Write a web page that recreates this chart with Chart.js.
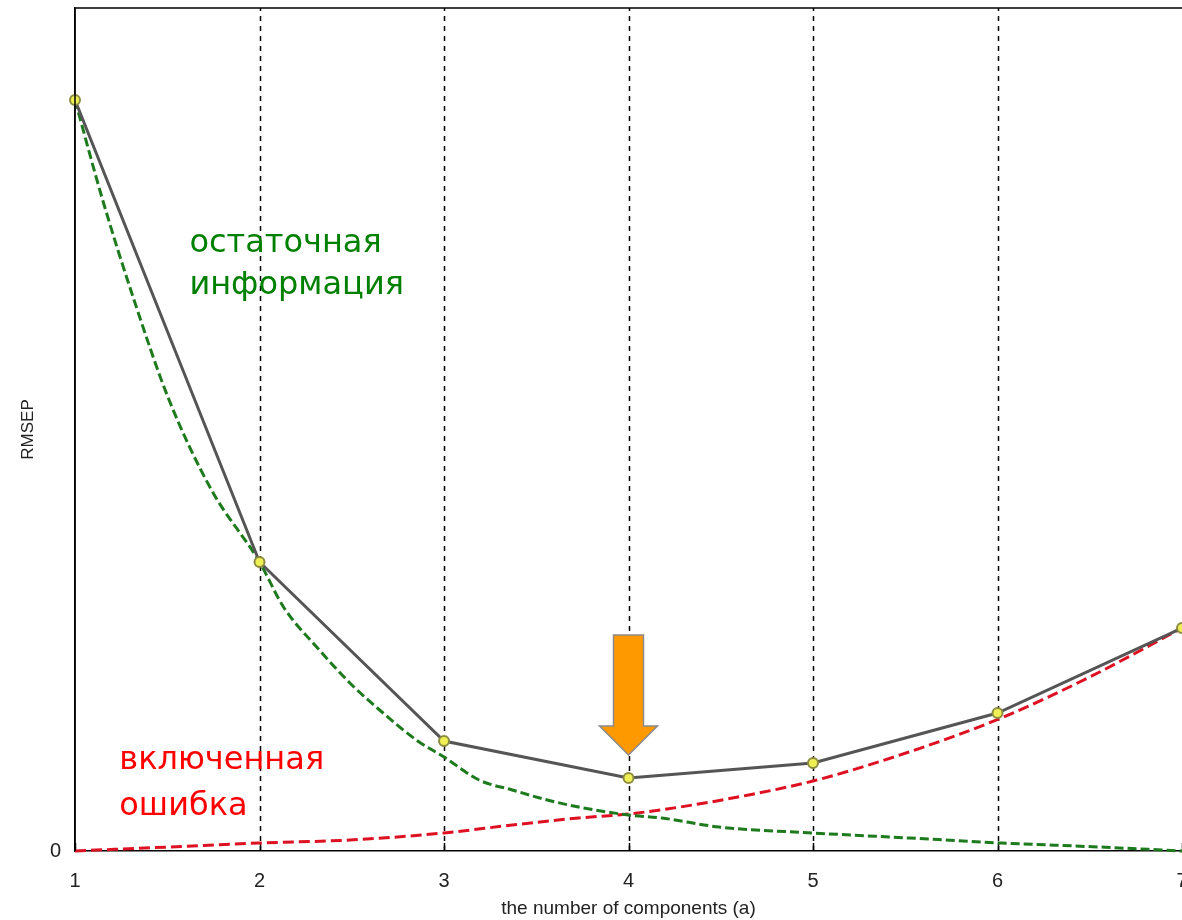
<!DOCTYPE html>
<html>
<head>
<meta charset="utf-8">
<script src="https://cdn.jsdelivr.net/npm/chart.js@4/dist/chart.umd.min.js"></script>
<style>
  html, body { margin: 0; padding: 0; background: #fff; overflow: hidden; }
  #wrap { width: 1182px; height: 920px; }
  canvas { display: block; }
</style>
</head>
<body>
<div id="wrap"><canvas id="c" width="1182" height="920"></canvas></div>
<script>
// ---- data ----
const componentTicks = [1, 2, 3, 4, 5, 6, 7];
const rmsep = [7.51, 2.89, 1.10, 0.73, 0.88, 1.38, 2.23];

const residualX = [1.00, 1.15, 1.32, 1.51, 1.74, 2.00, 2.13, 2.31, 2.49, 2.67, 2.85, 3.00, 3.19, 3.37, 3.56, 3.73, 4.00, 4.18, 4.49, 5.00, 5.52, 6.02, 6.55, 7.00];
const residualY = [7.51, 6.51, 5.51, 4.51, 3.61, 2.89, 2.44, 2.04, 1.68, 1.38, 1.11, 0.94, 0.71, 0.61, 0.51, 0.44, 0.36, 0.33, 0.24, 0.18, 0.13, 0.08, 0.04, 0.00];

const errorX = [1.00, 1.51, 2.00, 2.49, 3.00, 3.37, 3.73, 4.00, 4.28, 4.65, 5.00, 5.52, 6.02, 6.50, 7.00];
const errorY = [0.00, 0.04, 0.08, 0.11, 0.18, 0.26, 0.33, 0.37, 0.44, 0.56, 0.70, 0.99, 1.33, 1.74, 2.23];

const yMax = 8.43;
const arrowAt = { x: 4, tipY: 0.96, topY: 2.16 };
const labelResidual = { x: 1.62, y: 6.07, lines: ['остаточная', 'информация'] };
const labelError = { x: 1.24, y: 0.90, lines: ['включенная', 'ошибка'] };

const toPts = (xs, ys) => xs.map((x, i) => ({ x: x, y: ys[i] }));

const annotations = {
  id: 'annotations',
  beforeDatasetsDraw(chart) {
    const { ctx, chartArea: a, scales: { x } } = chart;
    ctx.save();
    ctx.strokeStyle = '#000';
    ctx.lineWidth = 1.5;
    ctx.setLineDash([5, 5]);
    componentTicks.slice(1, -1).forEach(v => {
      const px = Math.round(x.getPixelForValue(v)) + 0.5;
      ctx.beginPath();
      ctx.moveTo(px, a.bottom);
      ctx.lineTo(px, a.top);
      ctx.stroke();
    });
    ctx.setLineDash([]);
    componentTicks.forEach(v => {
      const px = Math.round(x.getPixelForValue(v)) + 0.5;
      ctx.beginPath();
      ctx.moveTo(px, a.bottom);
      ctx.lineTo(px, a.bottom - 8);
      ctx.stroke();
    });
    ctx.restore();
  },
  afterDatasetsDraw(chart) {
    const { ctx, scales: { x, y } } = chart;
    ctx.save();
    // arrow
    const cx = x.getPixelForValue(arrowAt.x);
    const tip = y.getPixelForValue(arrowAt.tipY);
    const top = y.getPixelForValue(arrowAt.topY);
    const shaftHalf = 15, headHalf = 29, headH = 29;
    ctx.beginPath();
    ctx.moveTo(cx - shaftHalf, top);
    ctx.lineTo(cx + shaftHalf, top);
    ctx.lineTo(cx + shaftHalf, tip - headH);
    ctx.lineTo(cx + headHalf, tip - headH);
    ctx.lineTo(cx, tip);
    ctx.lineTo(cx - headHalf, tip - headH);
    ctx.lineTo(cx - shaftHalf, tip - headH);
    ctx.closePath();
    ctx.fillStyle = '#ff9900';
    ctx.fill();
    ctx.strokeStyle = '#8a8a8a';
    ctx.lineWidth = 1.5;
    ctx.stroke();
    // text labels
    ctx.font = '32px "DejaVu Sans", sans-serif';
    ctx.textBaseline = 'middle';
    ctx.textAlign = 'left';
    ctx.fillStyle = '#008000';
    let lx = x.getPixelForValue(labelResidual.x), ly = y.getPixelForValue(labelResidual.y);
    labelResidual.lines.forEach((t, i) => ctx.fillText(t, lx, ly + i * 42));
    ctx.fillStyle = '#ff0000';
    lx = x.getPixelForValue(labelError.x); ly = y.getPixelForValue(labelError.y);
    labelError.lines.forEach((t, i) => ctx.fillText(t, lx, ly + i * 46));
    ctx.restore();
  },
  afterDraw(chart) {
    const { ctx, chartArea: a } = chart;
    ctx.save();
    ctx.strokeStyle = '#000';
    ctx.lineWidth = 1.5;
    ctx.beginPath();
    ctx.moveTo(a.left, a.bottom);
    ctx.lineTo(a.left, a.top);
    ctx.lineTo(a.right + 2, a.top);
    ctx.stroke();
    ctx.restore();
  }
};

new Chart(document.getElementById('c'), {
  type: 'line',
  data: {
    datasets: [
      {
        label: 'RMSEP',
        data: toPts(componentTicks, rmsep),
        borderColor: '#555555',
        borderWidth: 3,
        pointRadius: 5,
        pointBackgroundColor: '#eeee55',
        pointBorderColor: '#8c8c40',
        pointBorderWidth: 2,
        tension: 0,
        order: 0
      },
      {
        label: 'residual',
        data: toPts(residualX, residualY),
        borderColor: '#1d7a1d',
        borderWidth: 3,
        borderDash: [9, 4],
        pointRadius: 0,
        cubicInterpolationMode: 'monotone',
        order: 1
      },
      {
        label: 'error',
        data: toPts(errorX, errorY),
        borderColor: '#dd1122',
        borderWidth: 3,
        borderDash: [11, 5],
        pointRadius: 0,
        cubicInterpolationMode: 'monotone',
        order: 2
      }
    ]
  },
  options: {
    responsive: false,
    animation: false,
    clip: false,
    layout: { autoPadding: false, padding: { top: 8, right: 0, left: 0, bottom: 0 } },
    plugins: { legend: { display: false }, tooltip: { enabled: false } },
    scales: {
      x: {
        type: 'linear',
        min: 1, max: 7,
        afterFit(s) { s.height = 69; s.paddingLeft = 0; s.paddingRight = 0; },
        afterBuildTicks(s) { s.ticks = componentTicks.map(v => ({ value: v })); },
        ticks: { color: '#222', font: { family: '"Liberation Sans", sans-serif', size: 20 }, padding: 10, maxRotation: 0 },
        grid: { display: false },
        border: { display: true, color: '#000', width: 1.5 },
        title: { display: true, text: 'the number of components (a)', color: '#222', font: { family: '"Liberation Sans", sans-serif', size: 19 }, padding: { top: 0, bottom: 0 } }
      },
      y: {
        type: 'linear',
        min: 0, max: yMax,
        afterFit(s) { s.width = 75; s.paddingTop = 0; s.paddingBottom = 0; },
        afterBuildTicks(s) { s.ticks = [{ value: 0 }]; },
        ticks: { color: '#222', font: { family: '"Liberation Sans", sans-serif', size: 20 }, padding: 6 },
        grid: { display: false },
        border: { display: true, color: '#000', width: 1.5 },
        title: { display: true, text: 'RMSEP', color: '#222', font: { family: '"Liberation Sans", sans-serif', size: 17 }, padding: { top: 18, bottom: 8 } }
      }
    }
  },
  plugins: [annotations]
});
</script>
</body>
</html>
